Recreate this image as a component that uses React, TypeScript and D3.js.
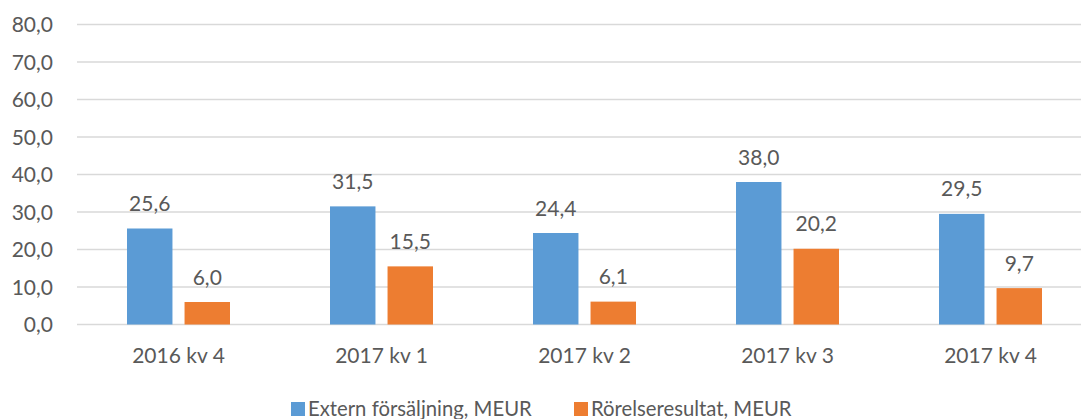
import React, { useEffect, useRef } from "react";
import * as d3 from "d3";

const categories = ["2016 kv 4", "2017 kv 1", "2017 kv 2", "2017 kv 3", "2017 kv 4"];
const seriesNames = ["Extern försäljning, MEUR", "Rörelseresultat, MEUR"];
const externSales = [25.6, 31.5, 24.4, 38.0, 29.5];
const operatingResult = [6.0, 15.5, 6.1, 20.2, 9.7];
const yTicks = [0, 10, 20, 30, 40, 50, 60, 70, 80];
const colors = ["#5B9BD5", "#ED7D31"];

export default function App() {
  const ref = useRef<SVGSVGElement>(null);

  useEffect(() => {
    const svg = d3.select(ref.current);
    svg.selectAll("*").remove();
    const font = "Lato, 'Open Sans', sans-serif";
    const textColor = "#595959";
    const W = 1081, H = 419;

    const y = d3.scaleLinear().domain([0, 80]).range([324.5, 24.5]);
    const x0 = d3.scaleBand().domain(categories).range([77, 1092]).padding(0);
    const x1 = d3.scaleBand().domain(seriesNames).range([-51.5, 51.5]).paddingInner(0.21);
    const series = [externSales, operatingResult];

    // gridlines
    svg.append("g").selectAll("line").data(yTicks).join("line")
      .attr("x1", 77).attr("x2", W)
      .attr("y1", d => y(d)).attr("y2", d => y(d))
      .attr("stroke", "#D9D9D9").attr("stroke-width", 1.3);

    // y labels
    svg.append("g").selectAll("text").data(yTicks).join("text")
      .attr("x", 53).attr("y", d => y(d) + 7.5)
      .attr("text-anchor", "end")
      .style("font-family", font).style("font-size", "21px").attr("fill", textColor)
      .text(d => d.toFixed(1).replace(".", ","));

    // bars and labels
    series.forEach((vals, si) => {
      const g = svg.append("g");
      g.selectAll("rect").data(vals).join("rect")
        .attr("x", (d, i) => x0(categories[i])! + x0.bandwidth() / 2 + x1(seriesNames[si])!)
        .attr("y", d => y(d))
        .attr("width", x1.bandwidth())
        .attr("height", d => y(0) - y(d))
        .attr("fill", colors[si]);
      g.selectAll("text").data(vals).join("text")
        .attr("x", (d, i) => x0(categories[i])! + x0.bandwidth() / 2 + x1(seriesNames[si])! + x1.bandwidth() / 2)
        .attr("y", d => y(d) - 17.5)
        .attr("text-anchor", "middle")
        .style("font-family", font).style("font-size", "21px").attr("fill", textColor)
        .text(d => d.toFixed(1).replace(".", ","));
    });

    // category labels
    svg.append("g").selectAll("text").data(categories).join("text")
      .attr("x", d => x0(d)! + x0.bandwidth() / 2)
      .attr("y", 362.5)
      .attr("text-anchor", "middle")
      .style("font-family", font).style("font-size", "21px").attr("fill", textColor)
      .text(d => d);

    // legend
    const legendX = [291, 574];
    const lg = svg.append("g");
    seriesNames.forEach((name, i) => {
      lg.append("rect").attr("x", legendX[i]).attr("y", 402).attr("width", 14).attr("height", 14)
        .attr("fill", colors[i]);
      lg.append("text").attr("x", legendX[i] + 17).attr("y", 415.5)
        .style("font-family", font).style("font-size", "20.3px").attr("fill", textColor)
        .text(name);
    });
  }, []);

  return (
    <svg ref={ref} width={1081} height={419}
      style={{ position: "absolute", left: 0, top: 0, background: "#fff" }} />
  );
}
